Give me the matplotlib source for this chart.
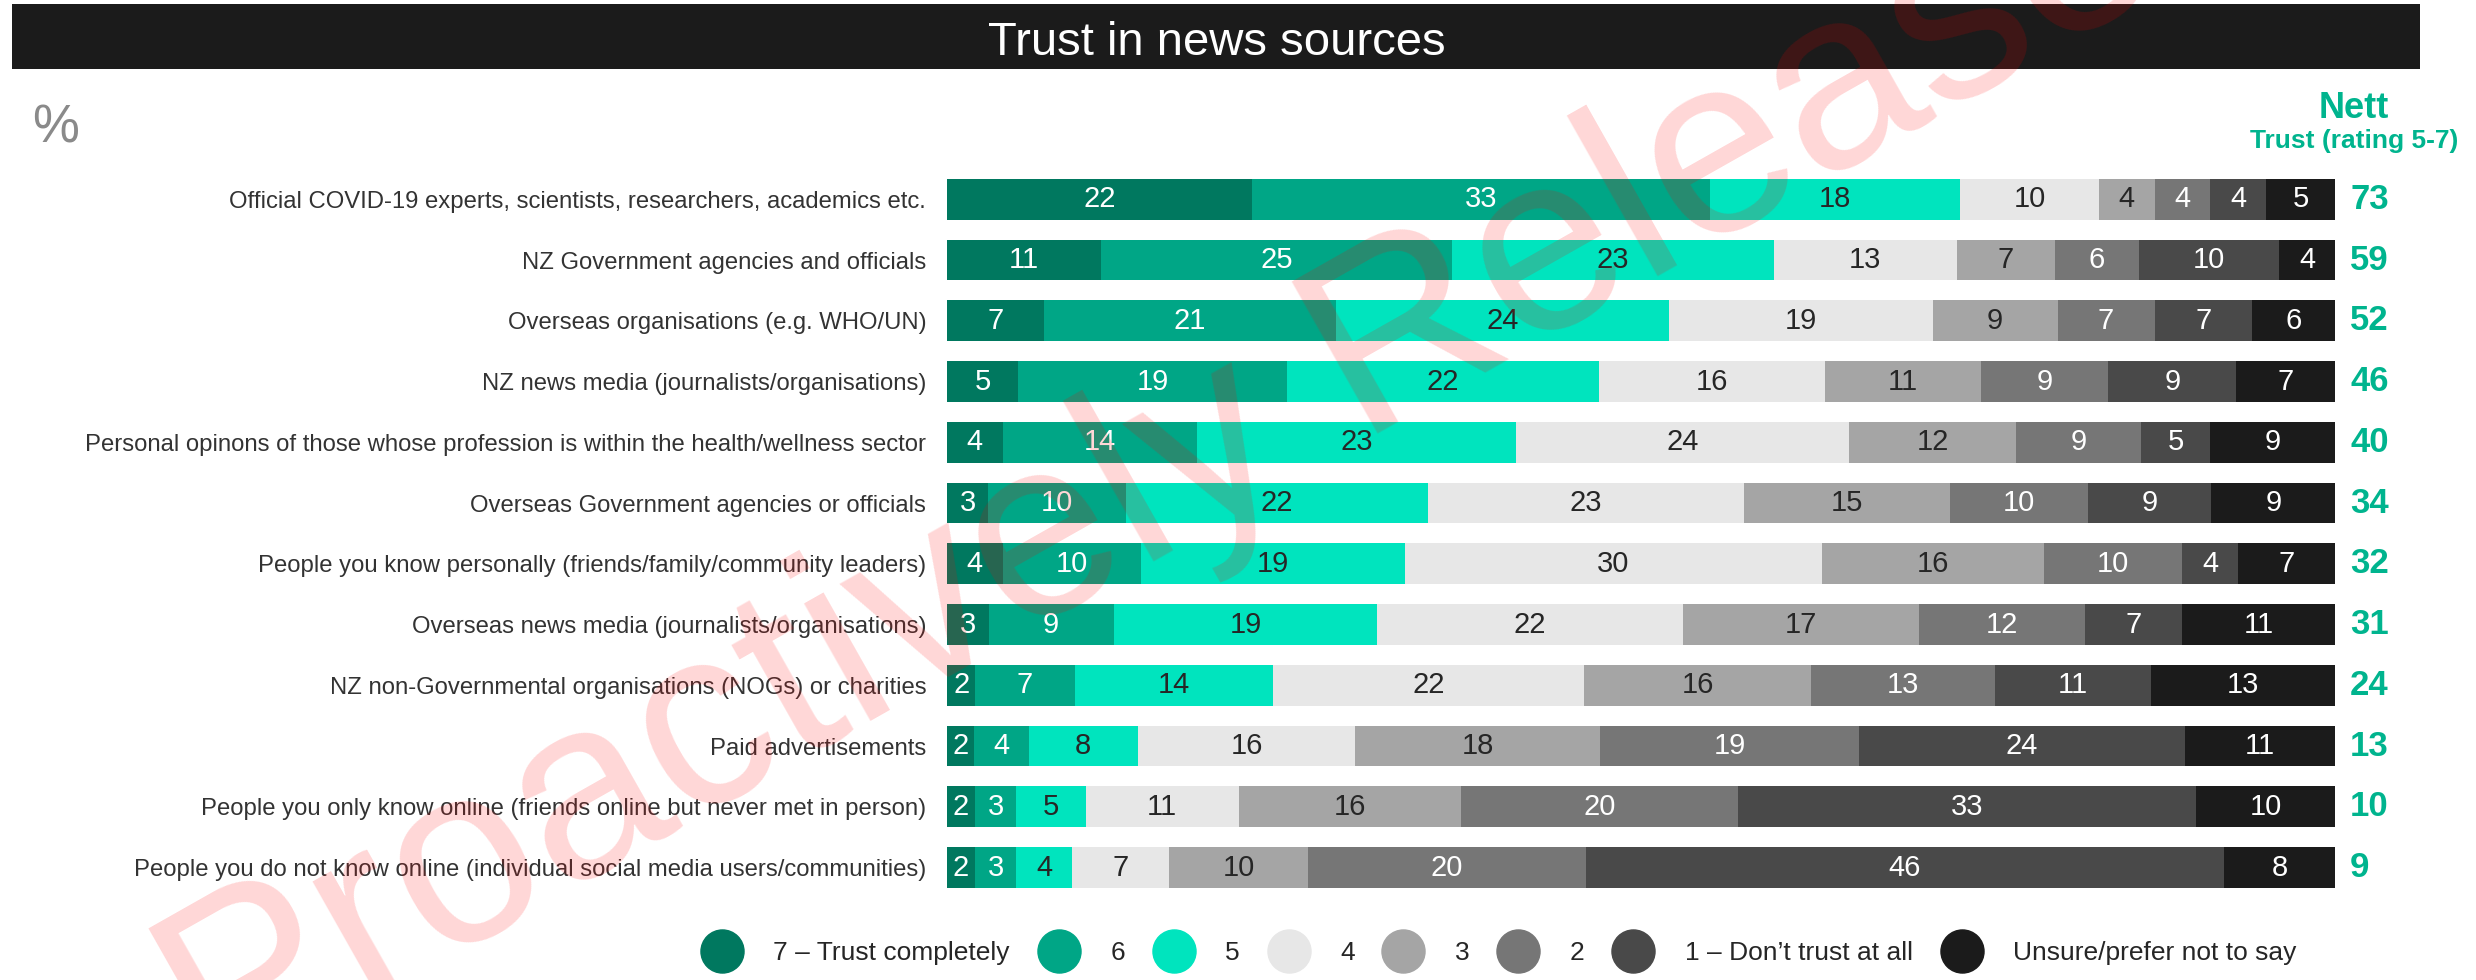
import numpy as np
import matplotlib
matplotlib.use("Agg")
import matplotlib.pyplot as plt
from matplotlib.patches import Rectangle
from matplotlib.lines import Line2D

plt.rcParams['font.family'] = ['Liberation Sans', 'DejaVu Sans']

# DATA
categories = [
    "Official COVID-19 experts, scientists, researchers, academics etc.",
    "NZ Government agencies and officials",
    "Overseas organisations (e.g. WHO/UN)",
    "NZ news media (journalists/organisations)",
    "Personal opinons of those whose profession is within the health/wellness sector",
    "Overseas Government agencies or officials",
    "People you know personally (friends/family/community leaders)",
    "Overseas news media (journalists/organisations)",
    "NZ non-Governmental organisations (NOGs) or charities",
    "Paid advertisements",
    "People you only know online (friends online but never met in person)",
    "People you do not know online (individual social media users/communities)",
]
r7 = [22, 11, 7, 5, 4, 3, 4, 3, 2, 2, 2, 2]
r6 = [33, 25, 21, 19, 14, 10, 10, 9, 7, 4, 3, 3]
r5 = [18, 23, 24, 22, 23, 22, 19, 19, 14, 8, 5, 4]
r4 = [10, 13, 19, 16, 24, 23, 30, 22, 22, 16, 11, 7]
r3 = [4, 7, 9, 11, 12, 15, 16, 17, 16, 18, 16, 10]
r2 = [4, 6, 7, 9, 9, 10, 10, 12, 13, 19, 20, 20]
r1 = [4, 10, 7, 9, 5, 9, 4, 7, 11, 24, 33, 46]
unsure = [5, 4, 6, 7, 9, 9, 7, 11, 13, 11, 10, 8]
nett = [73, 59, 52, 46, 40, 34, 32, 31, 24, 13, 10, 9]

legend_labels = ["7 \u2013 Trust completely", "6", "5", "4", "3", "2",
                 "1 \u2013 Don\u2019t trust at all", "Unsure/prefer not to say"]

colors = ['#00785F', '#00A686', '#00E4BE', '#E7E7E7', '#A5A5A5', '#767676', '#494949', '#1B1B1B']
text_colors = ['white', 'white', '#262626', '#262626', '#262626', 'white', 'white', 'white']
teal = '#00B48E'

series = np.array([r7, r6, r5, r4, r3, r2, r1, unsure], dtype=float)
# 100% stacked bars
shares = series / series.sum(axis=0) * 100
y = np.arange(len(categories))

fig = plt.figure(figsize=(24.76, 9.8), dpi=100)
ax = fig.add_axes([0.3825, 0.0837, 0.5606, 0.7439])

left = np.zeros(len(categories))
for k in range(len(series)):
    ax.barh(y, shares[k], left=left, height=0.67, color=colors[k])
    for i in range(len(categories)):
        ax.text(left[i] + shares[k][i] / 2, y[i], "%d" % series[k][i],
                ha='center', va='center', fontsize=21, color=text_colors[k])
    left += shares[k]

for i in range(len(categories)):
    ax.text(1.0108, y[i], str(nett[i]), transform=ax.get_yaxis_transform(),
            ha='left', va='center', fontsize=25, fontweight='bold', color=teal)

ax.set_xlim(0, 100)
ax.set_ylim(len(categories) - 0.5, -0.5)
ax.set_yticks(y)
ax.set_yticklabels(categories, fontsize=17.2, color='#333333')
ax.tick_params(axis='y', length=0, pad=15)
ax.set_xticks([])
for s in ax.spines.values():
    s.set_visible(False)

# title bar
fig.patches.append(Rectangle((0.00485, 0.9296), 0.9725, 0.0663, transform=fig.transFigure,
                             facecolor='#1B1B1B', edgecolor='none', zorder=1))
fig.text(0.4915, 0.9439, "Trust in news sources", ha='center', va='baseline',
         fontsize=34, color='white', zorder=3)
fig.text(0.013, 0.855, "%", ha='left', va='baseline', fontsize=38, color='#8a8a8a')
fig.text(0.9507, 0.8796, "Nett", ha='center', va='baseline', fontsize=26,
         fontweight='bold', color=teal)
fig.text(0.9507, 0.849, "Trust (rating 5-7)", ha='center', va='baseline', fontsize=19,
         fontweight='bold', color=teal)

handles = [Line2D([], [], marker='o', linestyle='none', markersize=31,
                  markerfacecolor=c, markeredgecolor=c) for c in colors]
fig.legend(handles, legend_labels, loc='center', bbox_to_anchor=(0.605, 0.0276),
           ncol=8, frameon=False, fontsize=19, handlelength=1.7, handletextpad=1.1,
           columnspacing=1.0, labelcolor='#262626')

# watermark
fig.text(0.494, 0.545, "Proactively Released", rotation=29.5, rotation_mode='anchor',
         ha='center', va='center', fontsize=183, color='red', alpha=0.16, zorder=10)

fig.savefig("out.png", dpi=100)
